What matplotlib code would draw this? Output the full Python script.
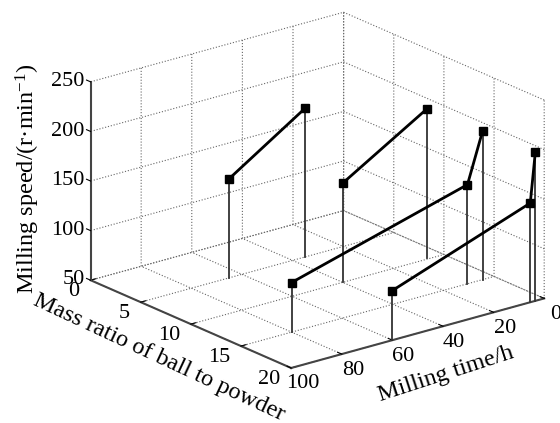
import matplotlib
matplotlib.use("Agg")
import matplotlib.pyplot as plt

plt.rcParams['font.family'] = ['Liberation Serif', 'DejaVu Sans']
plt.rcParams['mathtext.fontset'] = 'custom'
plt.rcParams['mathtext.rm'] = 'Liberation Serif'
plt.rcParams['mathtext.default'] = 'rm'
plt.rcParams['axes3d.grid'] = True

# one list per connected line: mass ratio, milling time, milling speed
mass_a = [5, 5]
time_a = [65, 35]
speed_a = [150, 200]
mass_b = [10, 9.8]
time_b = [40, 6]
speed_b = [150, 200]
mass_c = [15, 15, 15]
time_c = [80, 10.5, 4.5]
speed_c = [100, 150, 200]
mass_d = [20, 20, 20]
time_d = [60, 5.5, 3.5]
speed_d = [100, 150, 200]

mass_ticks = [0, 5, 10, 15, 20]
time_ticks = [0, 20, 40, 60, 80, 100]
speed_ticks = [50, 100, 150, 200, 250]

fig = plt.figure(figsize=(5.6, 4.23), dpi=100)
# 3d axes get squared up, so use a big square one that covers the whole figure
ax = fig.add_axes([-1 / 560, -85.5 / 423, 620 / 560, 620 / 423],
                  projection='3d', proj_type='ortho')
ax.view_init(elev=20.3, azim=-38.4)
ax.set_box_aspect((1, 1, 0.655), zoom=0.788)

for ms, ts, zs in [(mass_a, time_a, speed_a), (mass_b, time_b, speed_b),
                   (mass_c, time_c, speed_c), (mass_d, time_d, speed_d)]:
    for m, t, z in zip(ms, ts, zs):
        ax.plot([m, m], [t, t], [50, z], color='#333333', lw=1.3)
    ax.plot(ms, ts, zs, color='black', lw=2, marker='s', ms=5.5, mfc='black', mec='black')

ax.set_xlim(0, 20)
ax.set_ylim(100, 0)
ax.set_zlim(50, 250)
ax.set_xticks(mass_ticks)
ax.set_yticks(time_ticks)
ax.set_zticks(speed_ticks)
ax.tick_params(labelsize=16, pad=0)
ax.xaxis.set_tick_params(pad=2)
ax.yaxis.set_tick_params(pad=5)
ax.zaxis.set_tick_params(pad=-5)

for axis in (ax.xaxis, ax.yaxis, ax.zaxis):
    axis.set_pane_color((1, 1, 1, 0))
    axis.pane.set_edgecolor((1, 1, 1, 0))
    axis._axinfo['grid'].update(color='#666666', linewidth=0.8, linestyle=':')
    axis._axinfo['tick'].update(inward_factor=0, outward_factor=0.25)
    axis._axinfo['axisline']['color'] = '#444444'
    axis.line.set_linewidth(1.5)
    axis.line.set_color('#444444')
    axis.set_rotate_label(False)

ax.zaxis.set_ticks_position('upper')
ax.zaxis.set_label_position('upper')

for label in ax.get_xticklabels():
    label.set_ha('right')
    label.set_va('center')
for label in ax.get_yticklabels():
    label.set_va('center')
for label in ax.get_zticklabels():
    label.set_ha('right')
    label.set_va('center')

ax.set_xlabel('Mass ratio of ball to powder', fontsize=17.5, rotation=-25, labelpad=8)
ax.set_ylabel('Milling time/h', fontsize=17.5, rotation=18, labelpad=12)
ax.set_zlabel('Milling speed/(r·min$^{-1}$)', fontsize=17.5, rotation=90, labelpad=11)

fig.savefig('out.png', dpi=100)
